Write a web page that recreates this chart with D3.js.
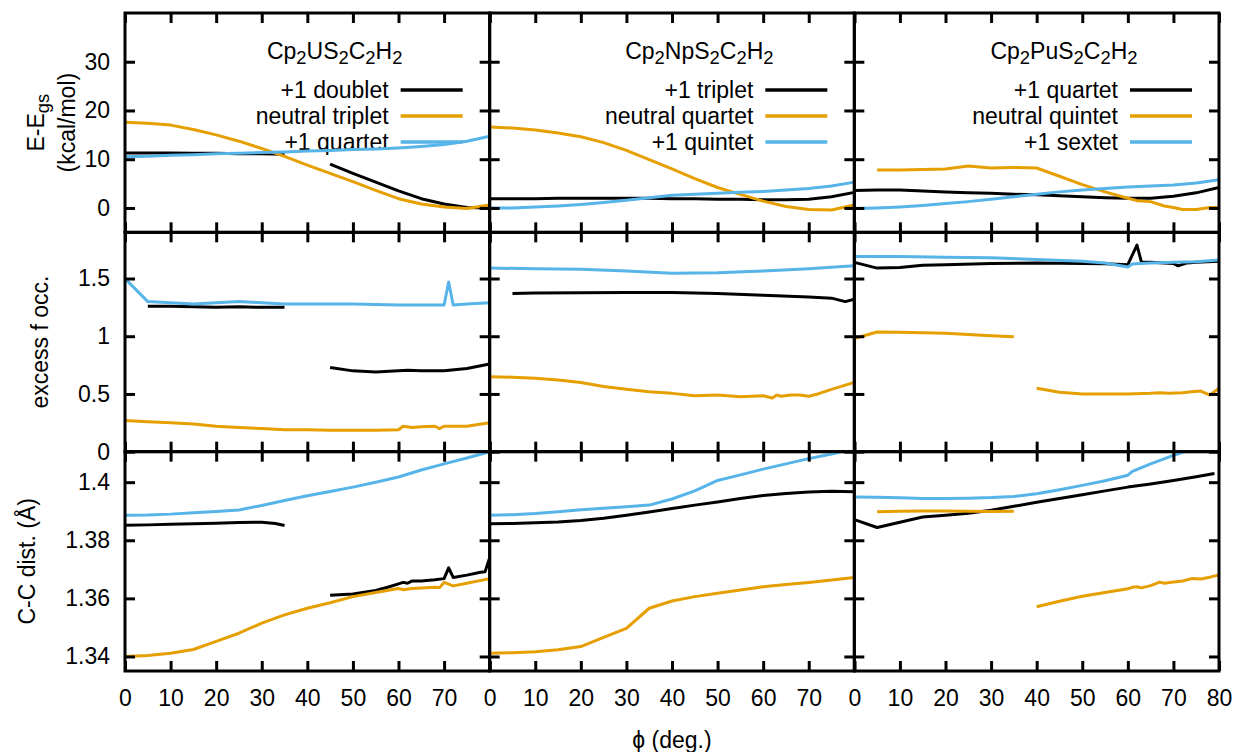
<!DOCTYPE html>
<html>
<head>
<meta charset="utf-8">
<script src="https://cdn.jsdelivr.net/npm/d3@7"></script>
<style>
  body { margin: 0; background: #fff; }
  text { font-family: "Liberation Sans", Arial, sans-serif; fill: #000; }
</style>
</head>
<body>
<svg id="chart" width="1237" height="752"></svg>
<script>
// ---- data: [phi (deg.), value] pairs, null = gap in the curve ----

const titles = ["Cp_2US_2C_2H_2", "Cp_2NpS_2C_2H_2", "Cp_2PuS_2C_2H_2"];
const legendU = ["+1 doublet", "neutral triplet", "+1 quartet"];
const legendNp = ["+1 triplet", "neutral quartet", "+1 quintet"];
const legendPu = ["+1 quartet", "neutral quintet", "+1 sextet"];
const seriesColors = ["#000000", "#E69F00", "#56B4E9"];

const xTicks = [0, 10, 20, 30, 40, 50, 60, 70, 80];
const energyTicks = [0, 10, 20, 30];
const occTicks = [0, 0.5, 1, 1.5];
const ccTicks = [1.34, 1.36, 1.38, 1.40];

// E - Egs (kcal/mol)
const uEnergyBlack = [[0,11.3],[5,11.3],[10,11.3],[15,11.2],[20,11.2],[25,11.1],[30,11.1],[35,11.0],null,
  [45,9.0],[50,7.1],[55,5.3],[60,3.5],[65,1.9],[70,0.8],[75,0.1],[80,0.0]];
const uEnergyOrange = [[0,17.6],[5,17.4],[10,17.0],[15,16.1],[20,15.0],[25,13.7],[30,12.2],[35,10.6],[40,8.8],
  [45,7.1],[50,5.4],[55,3.6],[60,1.9],[65,0.8],[70,0.2],[75,-0.1],[80,0.6]];
const uEnergyBlue = [[0,10.5],[5,10.6],[10,10.8],[15,10.9],[20,11.1],[25,11.2],[30,11.4],[35,11.5],[40,11.7],
  [45,11.8],[50,12.0],[55,12.1],[60,12.3],[65,12.6],[70,13.0],[75,13.7],[80,14.7]];

const npEnergyBlack = [[0,1.9],[5,1.9],[10,1.9],[15,2.0],[20,2.0],[25,2.0],[30,2.0],[35,2.0],[40,1.9],
  [45,1.9],[50,1.8],[55,1.8],[60,1.7],[65,1.7],[70,1.8],[75,2.3],[80,3.2]];
const npEnergyOrange = [[0,16.6],[5,16.4],[10,16.0],[15,15.4],[20,14.6],[25,13.4],[30,11.8],[35,9.9],[40,8.0],
  [45,6.0],[50,4.2],[55,2.8],[60,1.4],[65,0.3],[70,-0.3],[75,-0.4],[80,0.6]];
const npEnergyBlue = [[0,0],[5,0],[10,0.2],[15,0.4],[20,0.7],[25,1.1],[30,1.6],[35,2.1],[40,2.6],
  [45,2.8],[50,3.0],[55,3.2],[60,3.4],[65,3.7],[70,4.0],[75,4.5],[80,5.3]];

const puEnergyBlack = [[0,3.6],[5,3.7],[10,3.7],[15,3.5],[20,3.3],[25,3.1],[30,3.0],[35,2.8],[40,2.7],
  [45,2.5],[50,2.3],[55,2.1],[60,2.0],[65,2.0],[70,2.4],[75,3.1],[80,4.2]];
const puEnergyOrange = [[5,7.8],[10,7.8],[15,7.9],[20,8.0],[25,8.6],[30,8.2],[35,8.3],[40,8.2],[45,6.5],
  [50,4.8],[55,3.3],[60,2.0],[62,1.5],[65,1.3],[68,0.4],[70,0.1],[72,-0.3],[75,-0.3],[78,0.1],[80,0.1]];
const puEnergyBlue = [[0,-0.1],[5,0],[10,0.2],[15,0.5],[20,0.9],[25,1.3],[30,1.8],[35,2.3],[40,2.8],
  [45,3.3],[50,3.7],[55,4.0],[60,4.3],[65,4.5],[70,4.7],[75,5.1],[80,5.8]];

// excess f occupation
const uOccBlack = [[5,1.26],[10,1.26],[15,1.255],[20,1.25],[25,1.255],[30,1.25],[35,1.25],null,
  [45,0.73],[50,0.70],[55,0.69],[60,0.70],[62,0.705],[65,0.70],[70,0.70],[75,0.72],[80,0.76]];
const uOccOrange = [[0,0.27],[5,0.26],[10,0.25],[15,0.24],[20,0.22],[25,0.21],[30,0.20],[35,0.19],[40,0.19],
  [45,0.185],[50,0.185],[55,0.185],[60,0.19],[61,0.22],[63,0.21],[65,0.215],[68,0.22],[69,0.20],[70,0.22],
  [75,0.22],[80,0.25]];
const uOccBlue = [[0,1.5],[5,1.30],[10,1.29],[15,1.28],[20,1.29],[25,1.30],[30,1.29],[35,1.28],[40,1.28],
  [50,1.28],[60,1.27],[70,1.27],[71,1.47],[72,1.27],[75,1.28],[80,1.29]];

const npOccBlack = [[5,1.37],[10,1.375],[20,1.377],[30,1.378],[40,1.378],[50,1.37],[60,1.355],[70,1.34],
  [75,1.33],[78,1.30],[80,1.32]];
const npOccOrange = [[0,0.65],[5,0.645],[10,0.635],[15,0.62],[20,0.60],[25,0.565],[30,0.54],[35,0.52],
  [40,0.505],[45,0.485],[50,0.49],[55,0.475],[60,0.485],[62,0.465],[63,0.49],[64,0.48],[66,0.49],[68,0.49],
  [70,0.48],[72,0.50],[75,0.54],[80,0.60]];
const npOccBlue = [[0,1.59],[10,1.585],[20,1.58],[30,1.565],[40,1.545],[50,1.55],[60,1.565],[70,1.585],[80,1.61]];

const puOccBlack = [[0,1.64],[5,1.59],[10,1.595],[15,1.615],[20,1.62],[30,1.63],[40,1.635],[50,1.63],
  [55,1.628],[60,1.62],[62,1.79],[63,1.64],[65,1.64],[70,1.63],[71,1.61],[73,1.635],[75,1.64],[80,1.65]];
const puOccOrange = [[0,0.98],[5,1.037],[10,1.035],[15,1.03],[20,1.025],[25,1.015],[30,1.005],[35,0.995],null,
  [40,0.55],[45,0.515],[50,0.50],[55,0.50],[60,0.50],[65,0.505],[67,0.51],[69,0.505],[72,0.51],[74,0.52],
  [76,0.525],[78,0.49],[80,0.55]];
const puOccBlue = [[0,1.69],[10,1.69],[20,1.685],[30,1.68],[40,1.665],[50,1.65],[55,1.635],[60,1.60],
  [61,1.625],[65,1.635],[70,1.64],[75,1.645],[80,1.66]];

// C-C distance (Angstrom)
const uCCBlack = [[0,1.3852],[5,1.3853],[10,1.3855],[15,1.3857],[20,1.3859],[25,1.3861],[30,1.3862],
  [33,1.3858],[35,1.3851],null,[45,1.3611],[50,1.3615],[55,1.3627],[58,1.3640],[60,1.3650],[61,1.3655],
  [62,1.3652],[63,1.3660],[65,1.3660],[68,1.3664],[70,1.3668],[71,1.3705],[72,1.3672],[75,1.3680],
  [78,1.3690],[79,1.3692],[80,1.3740]];
const uCCOrange = [[0,1.3400],[5,1.3403],[10,1.3411],[15,1.3424],[20,1.3452],[25,1.3480],[30,1.3515],
  [35,1.3543],[40,1.3566],[45,1.3585],[50,1.3606],[55,1.3620],[60,1.3634],[61,1.3630],[63,1.3634],
  [65,1.3636],[68,1.3638],[69,1.3637],[70,1.3655],[72,1.3643],[75,1.3652],[80,1.3668]];
const uCCBlue = [[0,1.3886],[5,1.3887],[10,1.3890],[15,1.3895],[20,1.3899],[25,1.3904],[30,1.3920],
  [35,1.3937],[40,1.3953],[45,1.3968],[50,1.3983],[55,1.4000],[60,1.4018],[65,1.4042],[70,1.4063],
  [75,1.4083],[80,1.4105]];

const npCCBlack = [[0,1.3857],[5,1.3858],[10,1.3860],[15,1.3863],[20,1.3868],[25,1.3876],[30,1.3886],
  [35,1.3897],[40,1.3909],[45,1.3921],[50,1.3932],[55,1.3944],[60,1.3954],[65,1.3961],[70,1.3966],
  [75,1.3969],[80,1.3967]];
const npCCOrange = [[0,1.3411],[5,1.3413],[10,1.3416],[15,1.3423],[20,1.3434],[25,1.3466],[30,1.3497],
  [35,1.3566],[40,1.3591],[45,1.3606],[50,1.3618],[55,1.3629],[60,1.3640],[65,1.3648],[70,1.3655],
  [75,1.3663],[80,1.3672]];
const npCCBlue = [[0,1.3886],[5,1.3888],[10,1.3892],[15,1.3898],[20,1.3905],[25,1.3910],[30,1.3915],
  [35,1.3921],[40,1.3942],[45,1.3970],[50,1.4006],[55,1.4025],[60,1.4045],[65,1.4063],[70,1.4081],
  [75,1.4097],[80,1.4115]];

const puCCBlack = [[0,1.3871],[5,1.3844],[10,1.3862],[15,1.3880],[20,1.3886],[25,1.3893],[30,1.3903],
  [35,1.3917],[40,1.3931],[45,1.3944],[50,1.3957],[55,1.3970],[60,1.3983],[65,1.3994],[70,1.4006],
  [75,1.4019],[79,1.4030]];
const puCCOrange = [[5,1.3898],[10,1.3900],[15,1.3901],[20,1.3901],[25,1.3900],[30,1.3899],[35,1.3900],null,
  [40,1.3571],[45,1.3590],[50,1.3607],[55,1.3620],[60,1.3633],[61,1.3638],[62,1.3640],[63,1.3636],
  [65,1.3644],[67,1.3656],[68,1.3652],[70,1.3656],[72,1.3660],[74,1.3668],[76,1.3667],[78,1.3673],[80,1.3681]];
const puCCBlue = [[0,1.3949],[5,1.3948],[10,1.3946],[15,1.3944],[20,1.3944],[25,1.3945],[30,1.3947],
  [35,1.3951],[40,1.3960],[45,1.3974],[50,1.3989],[55,1.4005],[60,1.4024],[61,1.4037],[65,1.4063],
  [70,1.4092],[75,1.4118]];

// grid of panels: rows = quantity, cols = molecule
const panelSeries = [
  [[uEnergyBlack, uEnergyOrange, uEnergyBlue], [npEnergyBlack, npEnergyOrange, npEnergyBlue], [puEnergyBlack, puEnergyOrange, puEnergyBlue]],
  [[uOccBlack, uOccOrange, uOccBlue], [npOccBlack, npOccOrange, npOccBlue], [puOccBlack, puOccOrange, puOccBlue]],
  [[uCCBlack, uCCOrange, uCCBlue], [npCCBlack, npCCOrange, npCCBlue], [puCCBlack, puCCOrange, puCCBlue]]
];
const legends = [legendU, legendNp, legendPu];

// ---- layout ----
let svg = d3.select("#chart");
let plotLeft = 125, plotRight = 1219, plotTop = 13, plotBottom = 671;
let colW = (plotRight - plotLeft) / 3;
let rowH = (plotBottom - plotTop) / 3;
let fontSize = 23;

let rows = [
  { domain: [-5, 40], ticks: energyTicks },
  { domain: [0, 1.9], ticks: occTicks },
  { domain: [1.335, 1.4105], ticks: ccTicks }
];
let yFormat = d3.format("~g");

let line = d3.line().defined(d => d !== null);

// text with "_xx" subscripts
function addSubText(sel, str) {
  let parts = str.split(/(_[a-z0-9]+)/).filter(p => p.length);
  parts.forEach(function (p, i) {
    if (p[0] === "_") {
      sel.append("tspan").attr("font-size", fontSize * 0.8).attr("dy", 5).text(p.slice(1));
    } else {
      let t = sel.append("tspan").text(p);
      if (i > 0) t.attr("dy", -5);
    }
  });
}

let defs = svg.append("defs");

rows.forEach(function (row, r) {
  let top = plotTop + r * rowH;
  let y = d3.scaleLinear().domain(row.domain).range([top + rowH, top]);

  for (let c = 0; c < 3; c++) {
    let left = plotLeft + c * colW;
    let x = d3.scaleLinear().domain([0, 80]).range([left, left + colW]);
    let g = svg.append("g");

    // title + key (top row only)
    if (r === 0) {
      let right = left + colW;
      let title = g.append("text")
        .attr("x", right - 155).attr("y", top + 46)
        .attr("text-anchor", "middle")
        .attr("font-size", fontSize);
      addSubText(title, titles[c]);

      legends[c].forEach(function (lab, i) {
        let ly = top + 77 + i * 26;
        g.append("text")
          .attr("x", right - 101).attr("y", ly + 8)
          .attr("text-anchor", "end")
          .attr("font-size", fontSize)
          .text(lab);
        g.append("line")
          .attr("x1", right - 89).attr("x2", right - 27)
          .attr("y1", ly).attr("y2", ly)
          .attr("stroke", seriesColors[i])
          .attr("stroke-width", 3.5);
      });
    }

    // curves, clipped to the panel
    let clipId = "clip" + r + c;
    defs.append("clipPath").attr("id", clipId)
      .append("rect")
      .attr("x", left).attr("y", top)
      .attr("width", colW).attr("height", rowH);

    line.x(d => x(d[0])).y(d => y(d[1]));
    g.append("g").attr("clip-path", "url(#" + clipId + ")")
      .selectAll("path")
      .data(panelSeries[r][c])
      .enter().append("path")
      .attr("d", d => line(d))
      .attr("fill", "none")
      .attr("stroke", (d, i) => seriesColors[i])
      .attr("stroke-width", 3)
      .attr("stroke-linejoin", "round");

    // inward ticks on all four sides
    let tickAxes = [
      { ax: d3.axisBottom(x).tickValues(xTicks), at: "translate(0," + (top + rowH) + ")" },
      { ax: d3.axisTop(x).tickValues(xTicks), at: "translate(0," + top + ")" },
      { ax: d3.axisLeft(y).tickValues(row.ticks), at: "translate(" + left + ",0)" },
      { ax: d3.axisRight(y).tickValues(row.ticks), at: "translate(" + (left + colW) + ",0)" }
    ];
    tickAxes.forEach(function (t) {
      let a = g.append("g").attr("transform", t.at)
        .call(t.ax.tickSize(-10).tickFormat(""));
      a.select(".domain").remove();
      a.selectAll(".tick line").attr("stroke", "#000").attr("stroke-width", 3);
    });

    // frame
    g.append("rect")
      .attr("x", left).attr("y", top)
      .attr("width", colW).attr("height", rowH)
      .attr("fill", "none")
      .attr("stroke", "#000")
      .attr("stroke-width", 3);

    // tick labels
    if (r === 2) {
      let labs = c < 2 ? xTicks.slice(0, -1) : xTicks;
      let xa = g.append("g").attr("transform", "translate(0," + (top + rowH) + ")")
        .call(d3.axisBottom(x).tickValues(labs).tickSize(0).tickPadding(19).tickFormat(d3.format("d")));
      xa.select(".domain").remove();
      xa.selectAll("text").attr("font-size", fontSize).attr("font-family", null);
    }
    if (c === 0) {
      let ya = g.append("g").attr("transform", "translate(" + left + ",0)")
        .call(d3.axisLeft(y).tickValues(row.ticks).tickSize(0).tickPadding(15).tickFormat(yFormat));
      ya.select(".domain").remove();
      ya.selectAll("text").attr("font-size", fontSize).attr("font-family", null);
    }
  }
});

// axis titles
function yTitle(xPos, yPos, str) {
  let t = svg.append("text")
    .attr("transform", "translate(" + xPos + "," + yPos + ") rotate(-90)")
    .attr("text-anchor", "middle")
    .attr("dy", "0.35em")
    .attr("font-size", fontSize);
  addSubText(t, str);
}
yTitle(36, plotTop + rowH / 2, "E-E_gs");
yTitle(67, plotTop + rowH / 2, "(kcal/mol)");
yTitle(40, plotTop + rowH * 1.5, "excess f occ.");
yTitle(27, plotTop + rowH * 2.5, "C-C dist. (Å)");

svg.append("text")
  .attr("x", (plotLeft + plotRight) / 2)
  .attr("y", 740)
  .attr("dy", "0.35em")
  .attr("text-anchor", "middle")
  .attr("font-size", fontSize)
  .text("\u03D5 (deg.)");
</script>
</body>
</html>
